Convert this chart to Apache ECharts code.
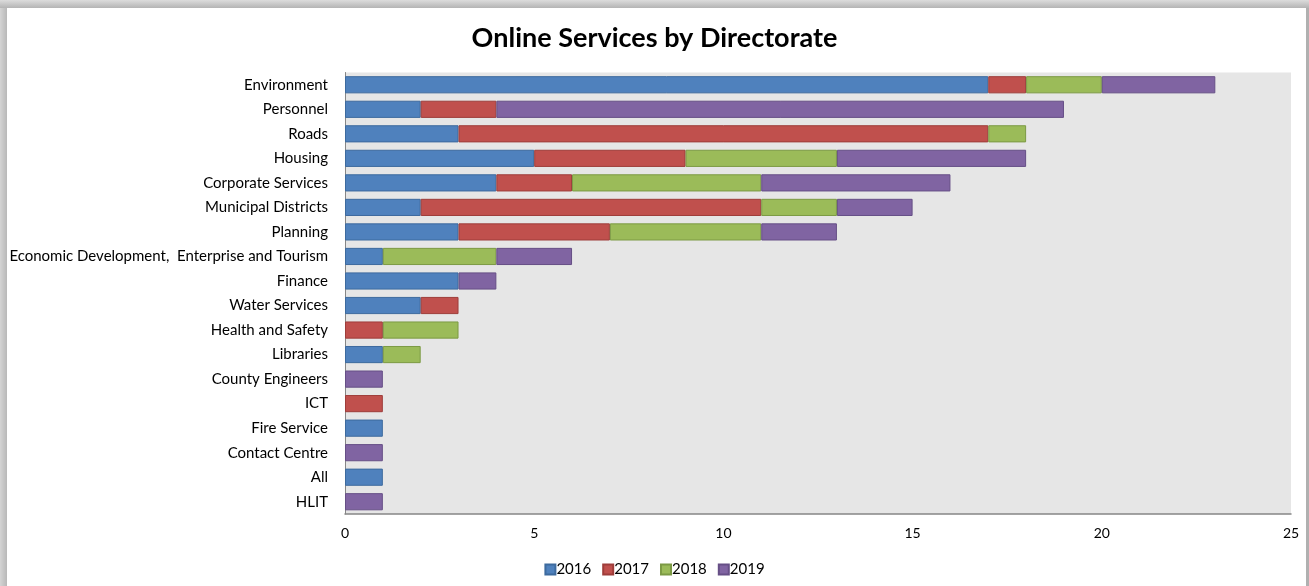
<!DOCTYPE html>
<html>
<head>
<meta charset="utf-8">
<script src="https://cdn.jsdelivr.net/npm/echarts@6/dist/echarts.min.js"></script>
<style>
  html, body { margin: 0; padding: 0; background: #fff; }
  #frame { position: absolute; left: 0; top: 0; width: 1309px; height: 586px; background: #fff; }
  #edgeL { position: absolute; left: 0; top: 0; width: 7px; height: 586px; background: linear-gradient(to right, #d4d4d4, #b8b8b8); }
  #edgeT { position: absolute; left: 0; top: 0; width: 1309px; height: 8px; background: linear-gradient(to bottom, #dcdcdc, #b4b4b4); }
  #edgeR { position: absolute; left: 1306px; top: 8px; width: 3px; height: 578px; background: #b0b0b0; }
  #chart { position: absolute; left: 0; top: 0; width: 1309px; height: 586px; }
</style>
</head>
<body>
<div id="frame"></div>
<div id="chart"></div>
<div id="edgeL"></div>
<div id="edgeT"></div>
<div id="edgeR"></div>
<script>
const categories = ["Environment", "Personnel", "Roads", "Housing", "Corporate Services", "Municipal Districts", "Planning", "Economic Development,  Enterprise and Tourism", "Finance", "Water Services", "Health and Safety", "Libraries", "County Engineers", "ICT", "Fire Service", "Contact Centre", "All", "HLIT"];
const years = ["2016", "2017", "2018", "2019"];
const values2016 = [17, 2, 3, 5, 4, 2, 3, 1, 3, 2, 0, 1, 0, 0, 1, 0, 1, 0];
const values2017 = [1, 2, 14, 4, 2, 9, 4, 0, 0, 1, 1, 0, 0, 1, 0, 0, 0, 0];
const values2018 = [2, 0, 1, 4, 5, 2, 4, 3, 0, 0, 2, 1, 0, 0, 0, 0, 0, 0];
const values2019 = [3, 15, 0, 5, 5, 2, 2, 2, 1, 0, 0, 0, 1, 0, 0, 1, 0, 1];
const xTicks = [0, 5, 10, 15, 20, 25];

const fills = ["#4F81BD", "#C0504D", "#9BBB59", "#8064A2"];
const borders = ["#3D6A9E", "#9E3D3A", "#7C9A44", "#664F86"];
const allValues = [values2016, values2017, values2018, values2019];

const chart = echarts.init(document.getElementById('chart'));
const font = "Lato, 'Open Sans', sans-serif";
chart.setOption({
  animation: false,
  backgroundColor: 'transparent',
  title: {
    text: 'Online Services by Directorate',
    left: 'center',
    top: 20,
    textStyle: { fontFamily: font, fontSize: 27, fontWeight: 'bold', color: '#000' }
  },
  legend: {
    bottom: 4,
    left: 'center',
    itemWidth: 10,
    itemHeight: 10,
    itemGap: 11,
    icon: 'rect',
    textStyle: { fontFamily: font, fontSize: 15, color: '#000', padding: [0, 0, 0, -4] },
    data: years
  },
  grid: {
    left: 345, right: 18, top: 72.5, bottom: 72,
    show: true, backgroundColor: '#E6E6E6', borderWidth: 0
  },
  xAxis: {
    type: 'value',
    min: xTicks[0], max: xTicks[xTicks.length - 1], interval: 5,
    axisLine: { show: true, lineStyle: { color: '#868686', width: 1.5 } },
    axisTick: { show: false },
    splitLine: { show: false },
    axisLabel: { fontFamily: font, fontSize: 14, color: '#000', margin: 12 }
  },
  yAxis: {
    type: 'category',
    inverse: true,
    data: categories,
    axisLine: { show: true, lineStyle: { color: '#868686', width: 1 } },
    axisTick: { show: false },
    axisLabel: { fontFamily: font, fontSize: 15, color: '#000', margin: 17 }
  },
  series: years.map((y, i) => ({
    name: y,
    type: 'bar',
    stack: 'total',
    barCategoryGap: '30%',
    itemStyle: { color: fills[i], borderColor: borders[i], borderWidth: 1 },
    data: allValues[i].map(v => v === 0 ? '-' : v)
  }))
});
</script>
</body>
</html>
